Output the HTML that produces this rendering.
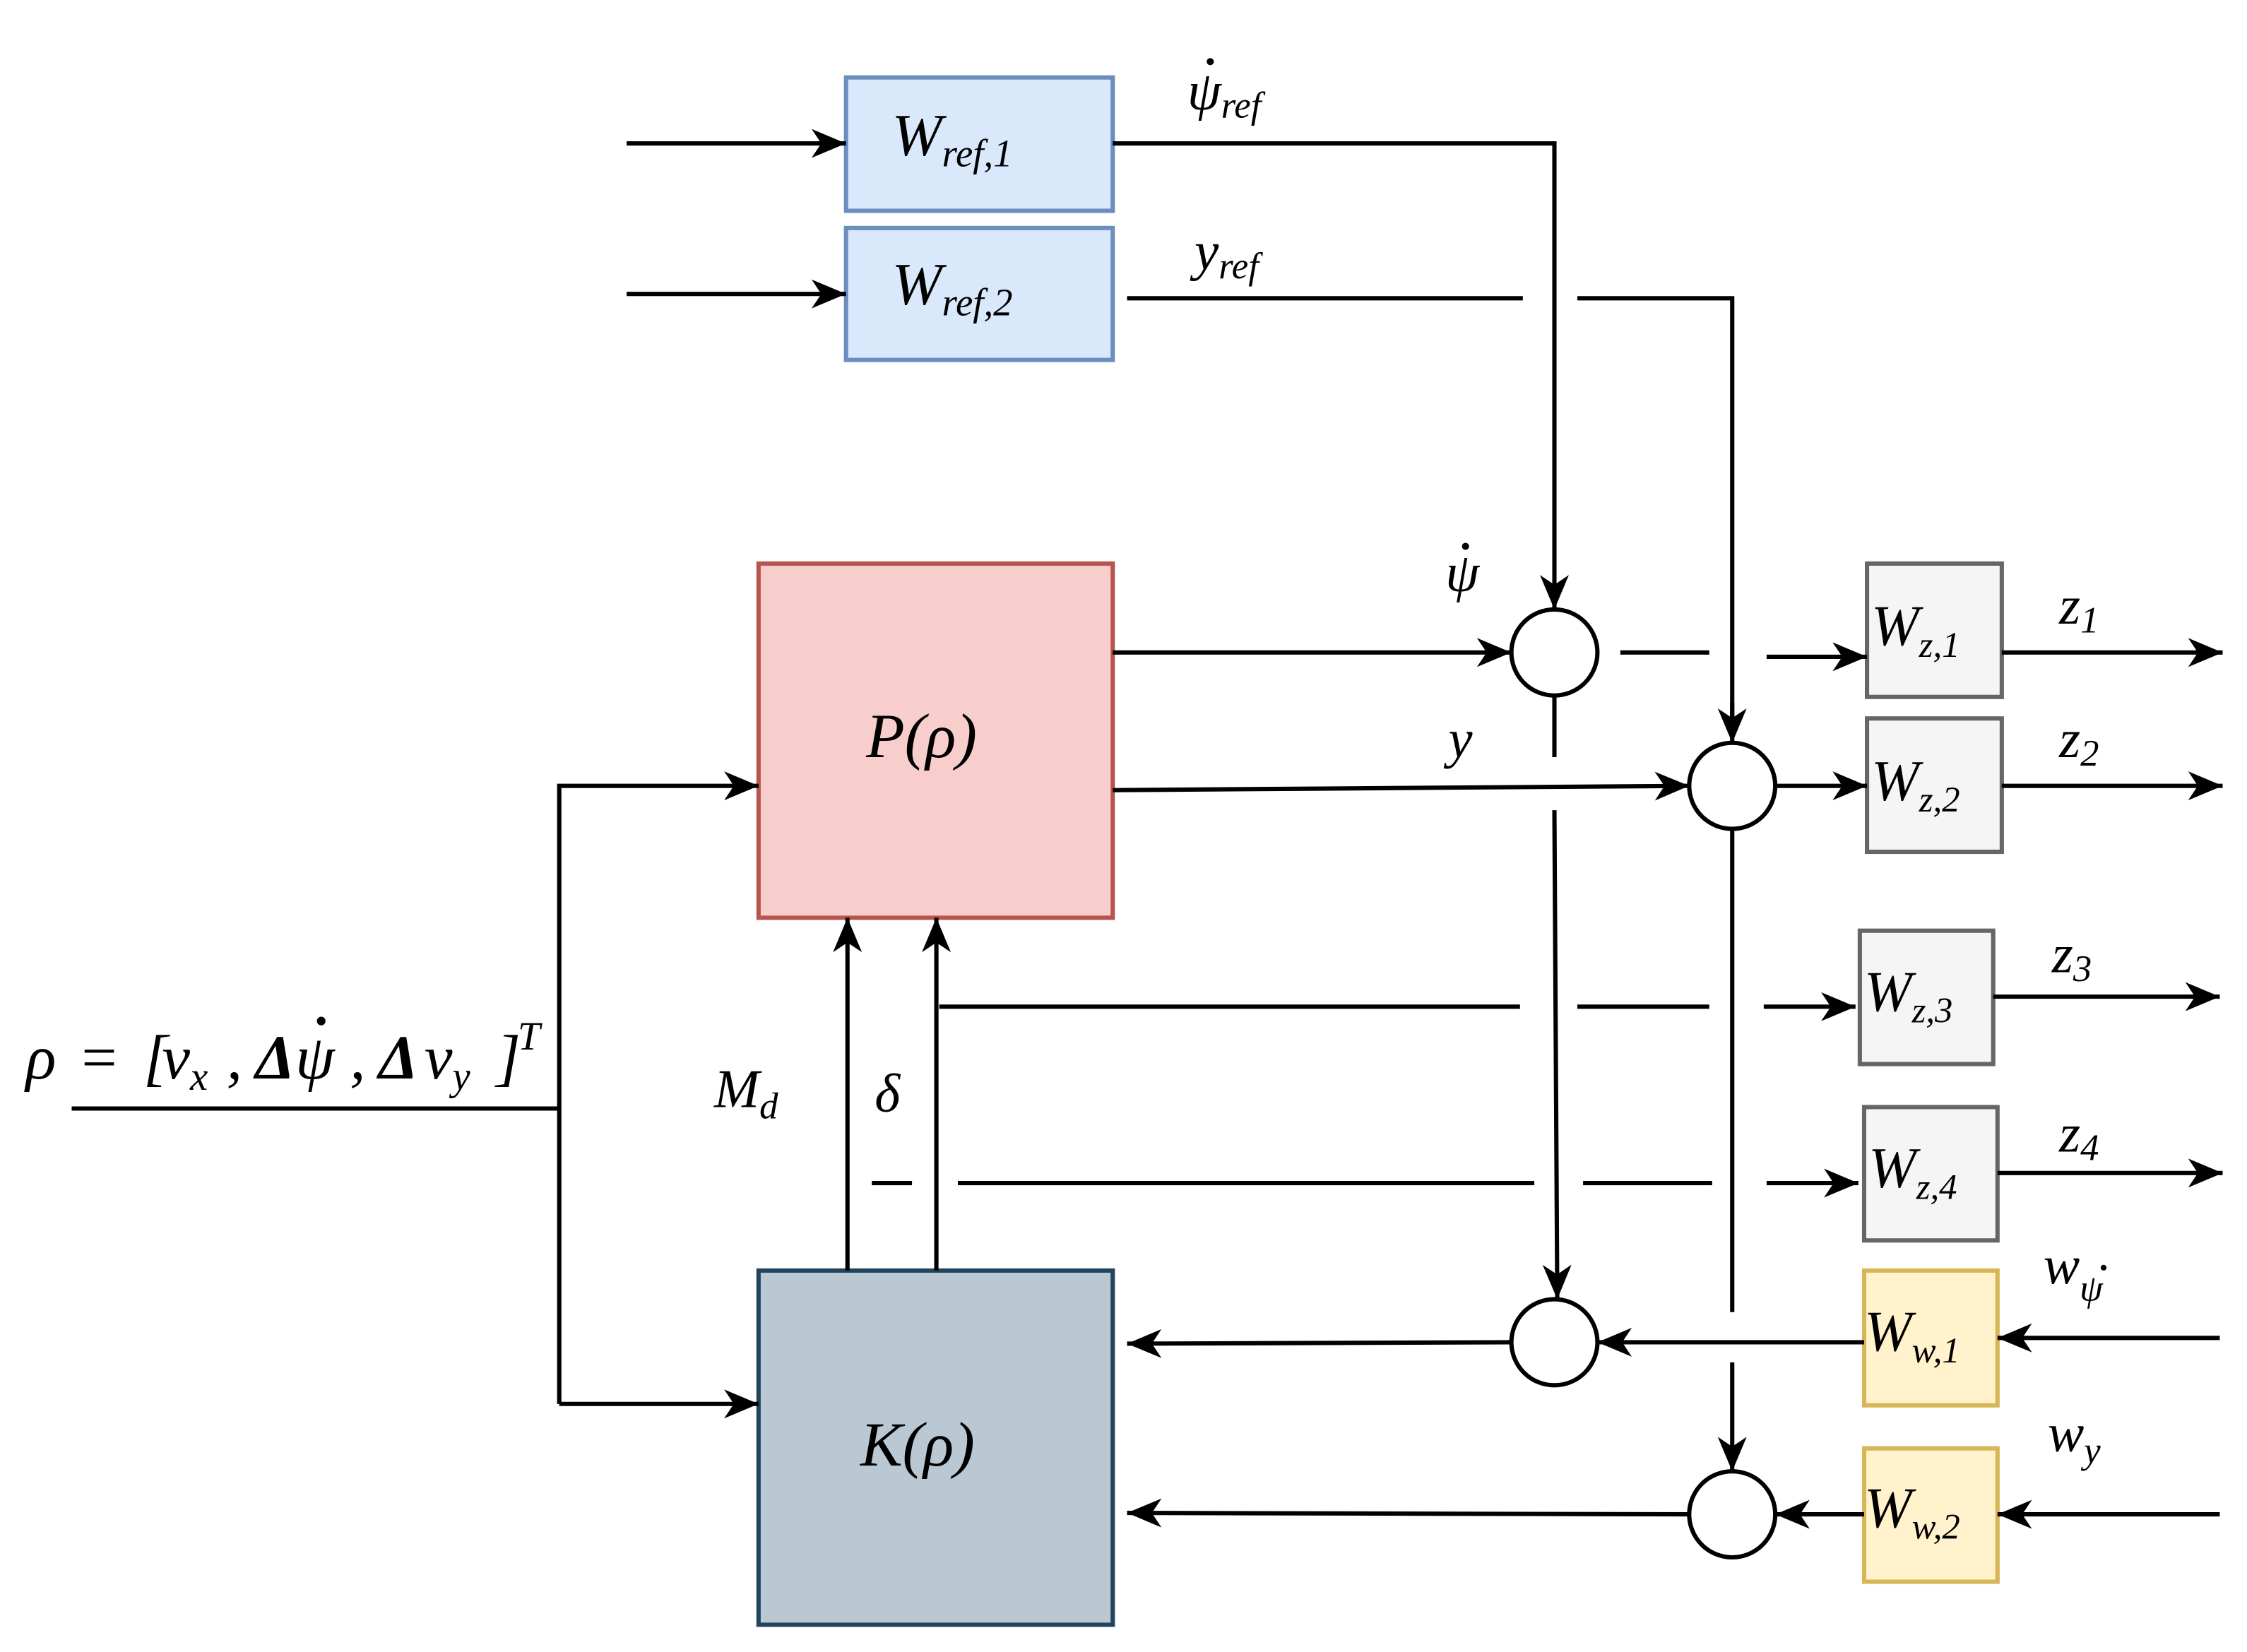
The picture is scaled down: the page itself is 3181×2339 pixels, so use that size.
<!DOCTYPE html>
<html><head><meta charset="utf-8"><style>
html,body{margin:0;padding:0;background:#fff;}
svg{display:block;}
text{font-family:"Liberation Serif",serif;font-style:italic;fill:#000;}
</style></head><body>
<svg width="3181" height="2339" viewBox="0 0 1567 1152" preserveAspectRatio="none" xmlns="http://www.w3.org/2000/svg">
<defs>
<marker id="b" viewBox="0 0 10 10" refX="10" refY="5" markerWidth="24" markerHeight="24" orient="auto" markerUnits="userSpaceOnUse"><path d="M0,0.8 L10,5 L0,9.2 L2.8,5 z" fill="#000"/></marker>
</defs>
<g stroke="#000" stroke-width="3" fill="none">
<rect x="590" y="54" width="186" height="93" fill="#dae8fc" stroke="#6c8ebf"/>
<rect x="590" y="159" width="186" height="92" fill="#dae8fc" stroke="#6c8ebf"/>
<rect x="529" y="393" width="247" height="247" fill="#f8cecc" stroke="#b85450"/>
<rect x="529" y="886" width="247" height="247" fill="#bac8d3" stroke="#23445d"/>
<rect x="1302" y="393" width="94" height="93" fill="#f5f5f5" stroke="#666"/>
<rect x="1302" y="501" width="94" height="93" fill="#f5f5f5" stroke="#666"/>
<rect x="1297" y="649" width="93" height="93" fill="#f5f5f5" stroke="#666"/>
<rect x="1300" y="772" width="93" height="93" fill="#f5f5f5" stroke="#666"/>
<rect x="1300" y="886" width="93" height="94" fill="#fff2cc" stroke="#d6b656"/>
<rect x="1300" y="1010" width="93" height="93" fill="#fff2cc" stroke="#d6b656"/>
<circle cx="1084" cy="455" r="30" fill="#fff"/>
<circle cx="1208" cy="548" r="30" fill="#fff"/>
<circle cx="1084" cy="936" r="30" fill="#fff"/>
<circle cx="1208" cy="1056" r="30" fill="#fff"/>
</g>
<g stroke="#000" stroke-width="3" fill="none">
<path d="M437,100 H590" marker-end="url(#b)"/>
<path d="M437,205 H590" marker-end="url(#b)"/>
<path d="M776,100 H1084 V425" marker-end="url(#b)"/>
<path d="M786,208 H1062 M1100,208 H1208 V500"/>
<path d="M1208,490 V518" marker-end="url(#b)"/>
<path d="M776,455 H1054" marker-end="url(#b)"/>
<path d="M776,551 L1178,548" marker-end="url(#b)"/>
<path d="M1130,455 H1192"/>
<path d="M1232,458 H1302" marker-end="url(#b)"/>
<path d="M1238,548 H1302" marker-end="url(#b)"/>
<path d="M1396,455 H1550" marker-end="url(#b)"/>
<path d="M1396,548 H1550" marker-end="url(#b)"/>
<path d="M1390,695 H1548" marker-end="url(#b)"/>
<path d="M1393,818 H1550" marker-end="url(#b)"/>
<path d="M1084,485 V528"/>
<path d="M1084,565 L1086,906" marker-end="url(#b)"/>
<path d="M1208,578 V915"/>
<path d="M1208,950 V1026" marker-end="url(#b)"/>
<path d="M655,702 H1060 M1100,702 H1192"/>
<path d="M1230,702 H1294" marker-end="url(#b)"/>
<path d="M608,825 H636 M668,825 H1070 M1104,825 H1194"/>
<path d="M1232,825 H1296" marker-end="url(#b)"/>
<path d="M591,886 V640" marker-end="url(#b)"/>
<path d="M653,886 V640" marker-end="url(#b)"/>
<path d="M1548,933 H1393" marker-end="url(#b)"/>
<path d="M1548,1056 H1393" marker-end="url(#b)"/>
<path d="M1300,936 H1114" marker-end="url(#b)"/>
<path d="M1300,1056 H1238" marker-end="url(#b)"/>
<path d="M1054,936 L786,937" marker-end="url(#b)"/>
<path d="M1178,1056 L786,1055" marker-end="url(#b)"/>
<path d="M50,773 H390"/>
<path d="M390,979 V548 H529" marker-end="url(#b)"/>
<path d="M390,979 H529" marker-end="url(#b)"/>
</g>
<g font-size="42">
<text x="622" y="108">W<tspan font-size="27" dy="8">ref,1</tspan></text>
<text x="622" y="212">W<tspan font-size="27" dy="8">ref,2</tspan></text>
<text x="604" y="528" font-size="44">P(ρ)</text>
<text x="600" y="1022" font-size="44">K(ρ)</text>
<g fill="#333">
<text x="1305" y="450" font-size="40">W<tspan font-size="25" dy="8">z,1</tspan></text>
<text x="1305" y="558" font-size="40">W<tspan font-size="25" dy="8">z,2</tspan></text>
<text x="1300" y="705" font-size="40">W<tspan font-size="25" dy="8">z,3</tspan></text>
<text x="1303" y="828" font-size="40">W<tspan font-size="25" dy="8">z,4</tspan></text>
</g>
<text x="1300" y="942" font-size="40">W<tspan font-size="25" dy="8">w,1</tspan></text>
<text x="1300" y="1065" font-size="40">W<tspan font-size="25" dy="8">w,2</tspan></text>
</g>
<g font-size="38">
<text x="828" y="76">ψ<tspan font-size="26" dy="6">ref</tspan></text>
<circle cx="844" cy="43" r="2.5"/>
<text x="833" y="188">y<tspan font-size="26" dy="6">ref</tspan></text>
<text x="1008" y="412">ψ</text>
<circle cx="1022" cy="381" r="2.5"/>
<text x="1010" y="528">y</text>
<text x="1436" y="435">z<tspan font-size="26" dy="6">1</tspan></text>
<text x="1436" y="528">z<tspan font-size="26" dy="6">2</tspan></text>
<text x="1431" y="678">z<tspan font-size="26" dy="6">3</tspan></text>
<text x="1436" y="803">z<tspan font-size="26" dy="6">4</tspan></text>
<text x="1425" y="895">w<tspan font-size="26" dy="12">ψ</tspan></text>
<circle cx="1467" cy="884" r="2"/>
<text x="1428" y="1012">w<tspan font-size="26" dy="8">y</tspan></text>
<text x="498" y="772">M<tspan font-size="26" dy="8">d</tspan></text>
<text x="610" y="775">δ</text>
</g>
<g font-size="44">
<text x="18" y="752">ρ</text>
<text x="54" y="752" font-style="normal">=</text>
<text x="100" y="752" font-style="normal">[</text>
<text x="113" y="752">v<tspan font-size="28" dy="8">x</tspan></text>
<text x="158" y="752" font-style="normal">,</text>
<text x="178" y="752" font-style="normal" font-weight="bold">Δ</text>
<text x="206" y="752">ψ</text>
<circle cx="224" cy="712" r="3"/>
<text x="244" y="752" font-style="normal">,</text>
<text x="264" y="752" font-style="normal" font-weight="bold">Δ</text>
<text x="296" y="752">v<tspan font-size="28" dy="8">y</tspan></text>
<text x="346" y="752" font-style="normal">]</text>
<text x="361" y="732" font-size="28">T</text>
</g>
</svg>
</body></html>
